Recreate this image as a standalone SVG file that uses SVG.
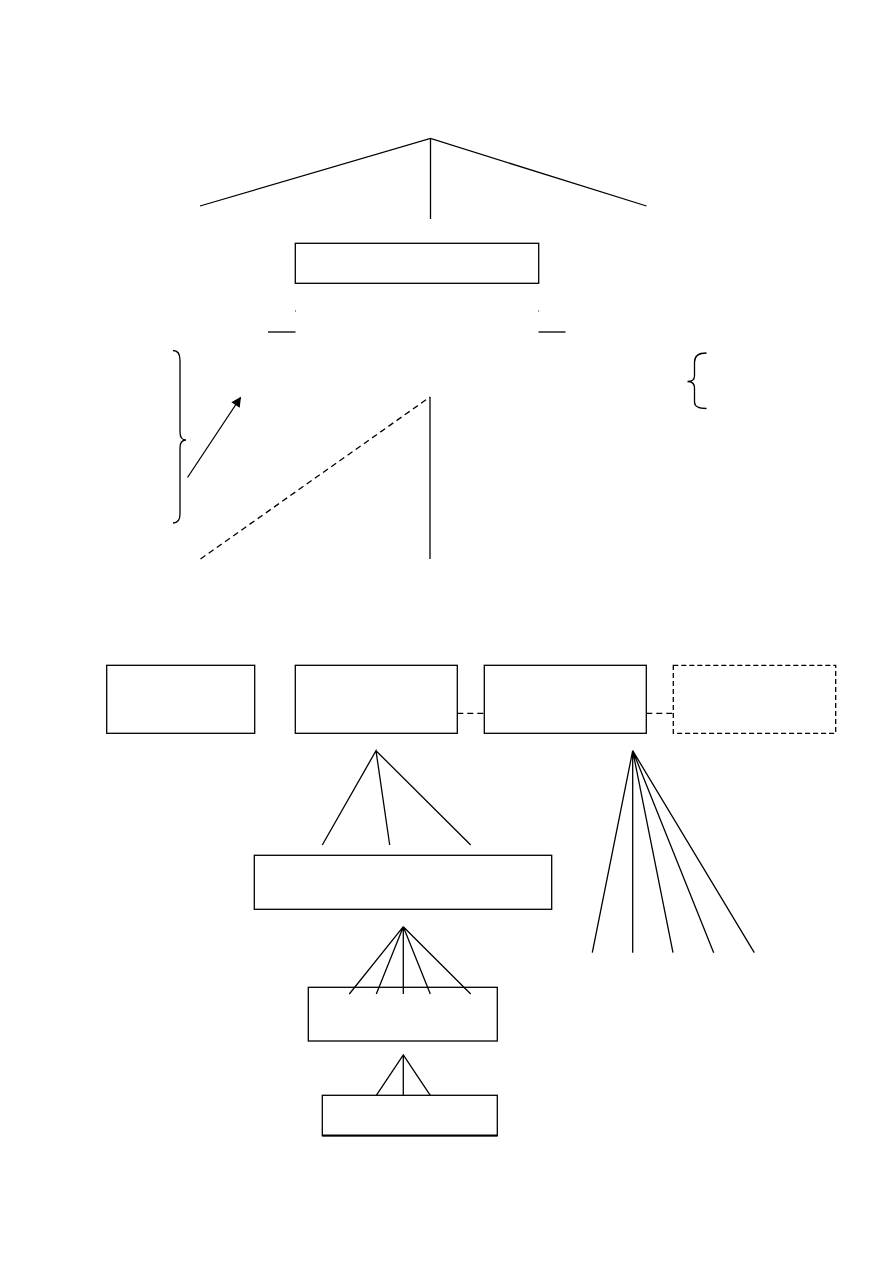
<svg xmlns="http://www.w3.org/2000/svg" width="893" height="1263" viewBox="0 0 893 1263">
<style>
.ln{stroke:#000;stroke-width:1.3;fill:none}
.dash{stroke:#000;stroke-width:1.3;fill:none;stroke-dasharray:6 4}
.box{fill:none;stroke:#000;stroke-width:1.3}
.dbox{fill:none;stroke:#000;stroke-width:1.3;stroke-dasharray:5 3}
</style>
<defs>
<marker id="ah" viewBox="0 0 10 10" refX="9" refY="5" markerWidth="11" markerHeight="10" orient="auto" markerUnits="userSpaceOnUse">
<path d="M0,0 L10,5 L0,10 z" fill="#000"/>
</marker>
</defs>
<rect width="893" height="1263" fill="#fff"/>
<g id="node-top"><rect class="box" x="295.3" y="243.3" width="243.4" height="40"/></g>
<g id="node-1"><rect class="box" x="106.7" y="665.3" width="148" height="68"/></g>
<g id="node-2"><rect class="box" x="295.3" y="665.3" width="162" height="68"/></g>
<g id="node-3"><rect class="box" x="484.3" y="665.3" width="162" height="68"/></g>
<g id="node-4"><rect class="dbox" x="673.3" y="665.3" width="162.4" height="68"/></g>
<g id="node-5"><rect class="box" x="254.3" y="855.3" width="297.4" height="54"/></g>
<g id="node-6"><rect class="box" x="308.3" y="987.3" width="189" height="53.7"/></g>
<g id="node-7"><rect class="box" x="322.3" y="1095.3" width="175" height="40.4"/><line x1="322.3" y1="1135.5" x2="497.3" y2="1135.5" stroke="#000" stroke-width="2"/></g>
<g id="connectors">
<path class="ln" d="M200,206 L430.5,138.5 L646.5,206"/>
<line class="ln" x1="430.5" y1="138.5" x2="430.5" y2="219"/>
<line class="ln" x1="268" y1="332" x2="295.5" y2="332"/>
<line class="ln" x1="538.5" y1="332" x2="565.5" y2="332"/>
<path class="ln" d="M295.3,311 h0.6"/>
<path class="ln" d="M538.5,311 h0.6"/>
<path class="ln" d="M173,350.5 Q180,350.5 180,360 L180,432 Q180,440 186,440 Q180,440 180,448 L180,514 Q180,523 173,523"/>
<path class="ln" d="M706.5,353 Q694.5,353 694.5,362 L694.5,376 Q694.5,381.5 687.5,381.5 Q694.5,381.5 694.5,388 L694.5,402 Q694.5,408.5 706.5,408.5"/>
<line class="ln" x1="187.5" y1="477.5" x2="240.5" y2="397.5" marker-end="url(#ah)"/>
<line class="dash" x1="200.5" y1="559" x2="430" y2="397"/>
<line class="ln" x1="430" y1="397" x2="430" y2="559"/>
<line class="dash" x1="457.3" y1="713.3" x2="484.3" y2="713.3"/>
<line class="dash" x1="646.3" y1="713.3" x2="673.3" y2="713.3"/>
<path class="ln" d="M322.3,845 L376,750.7 L389.7,845 M376,750.7 L470.7,845"/>
<path class="ln" d="M349.3,994 L403.3,926.7 L376.3,994 M403.3,926.7 L403.3,994 M403.3,926.7 L430.3,994 M403.3,926.7 L470.7,994"/>
<path class="ln" d="M376.3,1095.3 L403.3,1055 L430.3,1095.3 M403.3,1055 L403.3,1095.3"/>
<path class="ln" d="M592.3,952.7 L632.7,750.7 L632.7,952.7 M632.7,750.7 L673,952.7 M632.7,750.7 L713.7,952.7 M632.7,750.7 L754.3,952.7"/>
</g>
</svg>
